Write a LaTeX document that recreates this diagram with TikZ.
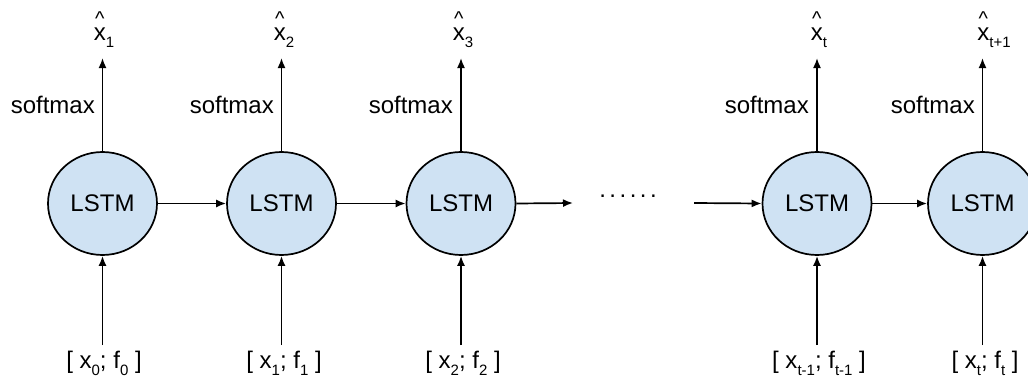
\documentclass[tikz,border=0pt]{standalone}
\usepackage{fontspec}
\setmainfont{Liberation Sans}
\usetikzlibrary{arrows.meta,shapes.geometric}
\definecolor{cellblue}{HTML}{CFE2F3}
\newcommand{\lowsub}[1]{\raisebox{-7pt}{\fontsize{15}{15}\selectfont #1}}
\newcommand{\hatx}[1]{\makebox[0pt][l]{\makebox[12pt][c]{\raisebox{15pt}{\fontsize{20}{20}\selectfont\textasciicircum}}}x\lowsub{#1}}
\begin{document}
\begin{tikzpicture}[x=1pt,y=-1pt,
  every node/.style={font=\fontsize{24}{28}\selectfont},
  cell/.style={ellipse,draw=black,line width=1.7pt,fill=cellblue,minimum width=109pt,minimum height=103pt,inner sep=0pt},
  arr/.style={line width=1.7pt,-{Latex[length=10pt,width=8pt]}},
  lbl/.style={inner sep=0pt}]
\useasboundingbox (0,0) rectangle (1028,375);
% cells
\node[cell] (c1) at (102.5,203.5) {LSTM};
\node[cell] (c2) at (281.5,203.5) {LSTM};
\node[cell] (c3) at (461,203.5) {LSTM};
\node[cell] (ct) at (817,203.5) {LSTM};
\node[cell] (cu) at (982.5,203.5) {LSTM};
% outputs
\node[lbl,anchor=base] (o1) at (104,40) {\hatx{1}};
\node[lbl,anchor=base] (o2) at (284,40) {\hatx{2}};
\node[lbl,anchor=base] (o3) at (463,40) {\hatx{3}};
\node[lbl,anchor=base] (ot) at (819,40) {\hatx{t}};
\node[lbl,anchor=base] (ou) at (994,40) {\hatx{t+1}};
% softmax labels
\node[lbl,anchor=base east] (s1) at (95,113) {softmax};
\node[lbl,anchor=base east] (s2) at (274,113) {softmax};
\node[lbl,anchor=base east] (s3) at (453,113) {softmax};
\node[lbl,anchor=base east] (st) at (809,113) {softmax};
\node[lbl,anchor=base east] (su) at (975,113) {softmax};
% inputs
\node[lbl,anchor=base] (i1) at (104,368) {[ x\lowsub{0}; f\lowsub{0} ]};
\node[lbl,anchor=base] (i2) at (284,368) {[ x\lowsub{1}; f\lowsub{1} ]};
\node[lbl,anchor=base] (i3) at (463,368) {[ x\lowsub{2}; f\lowsub{2} ]};
\node[lbl,anchor=base] (it) at (819,368) {[ x\lowsub{t-1}; f\lowsub{t-1} ]};
\node[lbl,anchor=base] (iu) at (985,368) {[ x\lowsub{t}; f\lowsub{t} ]};
% dots
\node[lbl] (dots) at (628,196) {.\kern3.5pt.\kern3.5pt.\kern3.5pt.\kern3.5pt.\kern3.5pt.};
\coordinate (e3) at (573,203);
\coordinate (bt) at (694,203);
% vertical arrows
\foreach \c/\o/\i in {c1/o1/i1,c2/o2/i2,c3/o3/i3,ct/ot/it,cu/ou/iu}{
  \draw[arr] (\c.north) -- (\c.north |- 0,58);
  \draw[arr] (\c.south |- 0,345) -- (\c.south);
}
% horizontal arrows
\draw[arr] (c1.east) -- (c2.west);
\draw[arr] (c2.east) -- (c3.west);
\draw[arr] (c3.east) -- (e3);
\draw[arr] (bt) -- (ct.west);
\draw[arr] (ct.east) -- (cu.west);
\end{tikzpicture}
\end{document}
